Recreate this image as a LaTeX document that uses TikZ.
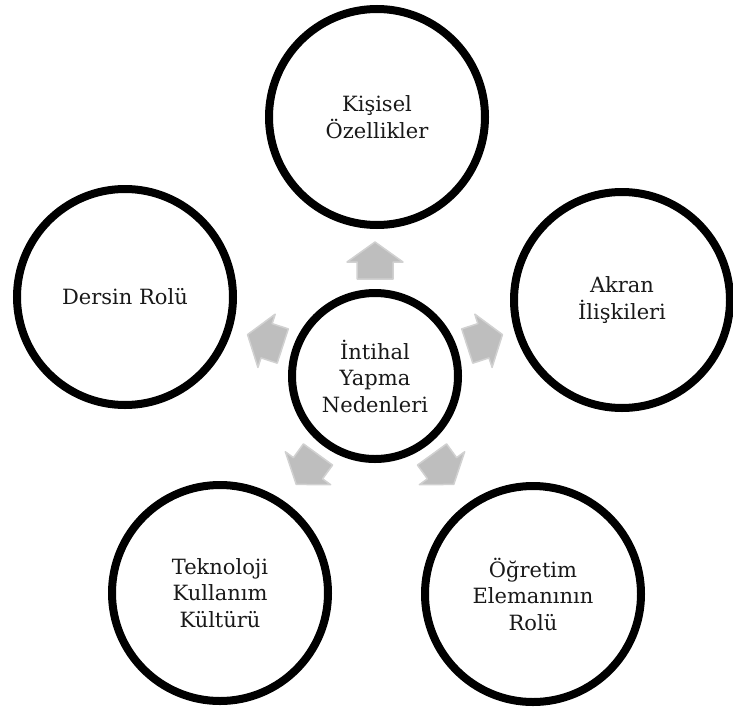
\documentclass[tikz,border=0pt]{standalone}
\usepackage{fontspec}
\setmainfont{DejaVu Serif}
\usepackage{xcolor}
\usepackage{tikz}
\usetikzlibrary{calc}
\definecolor{arrgray}{RGB}{190,190,190}
\tikzset{
	cause/.style={circle, draw=black, line width=8pt, fill=white,
		minimum size=216pt, inner sep=0pt, align=center,
		text=black!90, font=\fontsize{21}{26.5}\selectfont},
	mainc/.style={cause, minimum size=166pt},
	blockarr/.style={fill=arrgray, draw=arrgray!70!white, line width=1.5pt, line join=round}
}

\begin{document}
\begin{tikzpicture}[x=1pt, y=-1pt]
	\useasboundingbox (0,0) rectangle (733,715);

	% Center
	\node[mainc] (ctr) at (375,376) {İntihal\\Yapma\\Nedenleri};

	%% Causes
	\node[cause] (ozel) at (377,117) {Kişisel\\Özellikler};
	\node[cause] (akran) at (622,300) {Akran\\İlişkileri};
	\node[cause] (ders) at (125,297) {Dersin Rolü};
	\node[cause] (tekno) at (220,593) {Teknoloji\\Kullanım\\Kültürü};
	\node[cause] (ogrt) at (533,594) {Öğretim\\Elemanının\\Rolü};

	%% Arrows
	\foreach \a in {90,18,162,234,306}
		\filldraw[blockarr, shift={(ctr.center)}, rotate=\a]
		(97,-18) -- (114,-18) -- (114,-28) -- (134,0) -- (114,28) -- (114,18) -- (97,18) -- cycle;

\end{tikzpicture}
\end{document}
